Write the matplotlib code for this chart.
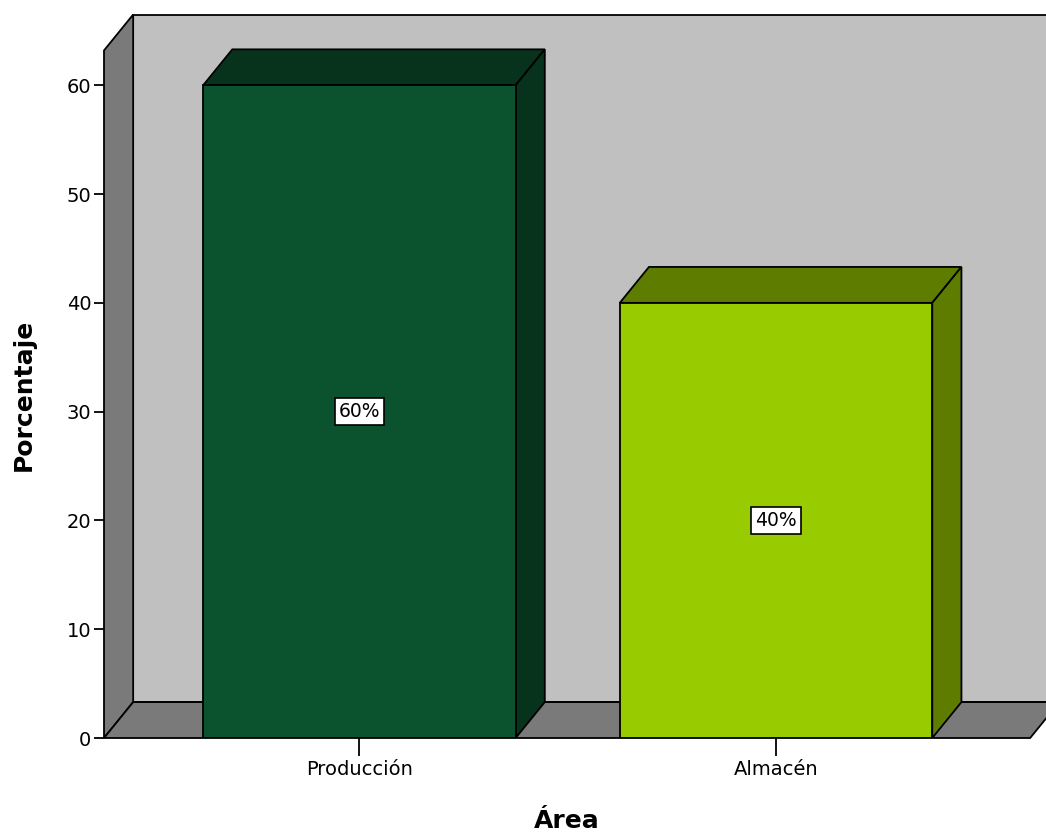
import matplotlib.pyplot as plt
from matplotlib.patches import Polygon, Rectangle

# data
areas = ["Producción", "Almacén"]
porcentajes = [60, 40]
etiquetas = ["60%", "40%"]
yticks = [0, 10, 20, 30, 40, 50, 60]

# colours (front, top/side)
front_colors = ["#0b532e", "#99cc00"]
dark_colors = ["#07331c", "#5e7d00"]

# 3d look: depth offset in data units
DX = 0.07
DY = 3.3
W = 0.75
X0, X1 = -0.613, 1.61     # floor front edge
H = 63.2                  # wall height

fig = plt.figure(figsize=(10.46, 8.34), dpi=100)
ax = fig.add_axes([104 / 1046, 96 / 834, 942 / 1046, 724 / 834])
ax.set_xlim(X0, 1.648)
ax.set_ylim(0, 66.55)

lw = 1.3
# back wall, left wall, floor
ax.add_patch(Rectangle((X0 + DX, DY), 2.5, H, facecolor="#c0c0c0",
                       edgecolor="black", lw=lw, clip_on=False, zorder=1))
ax.add_patch(Polygon([(X0, 0), (X0, H), (X0 + DX, H + DY), (X0 + DX, DY)],
                     facecolor="#7a7a7a", edgecolor="black", lw=lw, clip_on=False, zorder=2))
ax.add_patch(Polygon([(X0, 0), (X1, 0), (X1 + DX, DY), (X0 + DX, DY)],
                     facecolor="#7a7a7a", edgecolor="black", lw=lw, clip_on=False, zorder=2))

for i, v in enumerate(porcentajes):
    l, r = i - W / 2, i + W / 2
    ax.add_patch(Polygon([(l, v), (r, v), (r + DX, v + DY), (l + DX, v + DY)],
                         facecolor=dark_colors[i], edgecolor="black", lw=lw, zorder=3))
    ax.add_patch(Polygon([(r, 0), (r, v), (r + DX, v + DY), (r + DX, DY)],
                         facecolor=dark_colors[i], edgecolor="black", lw=lw, zorder=3))
    ax.add_patch(Rectangle((l, 0), W, v, facecolor=front_colors[i],
                           edgecolor="black", lw=lw, zorder=4))
    ax.text(i, v / 2, etiquetas[i], ha="center", va="center", fontsize=13.5, zorder=5,
            bbox=dict(boxstyle="square,pad=0.2", facecolor="white", edgecolor="black", lw=1.2))

for s in ax.spines.values():
    s.set_visible(False)

ax.set_yticks(yticks)
ax.set_xticks(range(len(areas)))
ax.set_xticklabels(areas)
ax.tick_params(axis="y", length=7, width=1.3, labelsize=14, pad=2)
ax.tick_params(axis="x", length=13, width=1.3, labelsize=14, pad=3)

ax.set_ylabel("Porcentaje", fontsize=18, fontweight="bold")
ax.yaxis.set_label_coords(-0.072, 0.474)
ax.set_xlabel("Área", fontsize=18, fontweight="bold")
ax.xaxis.set_label_coords(0.4915, -0.098)

fig.savefig("out.png", dpi=100)
